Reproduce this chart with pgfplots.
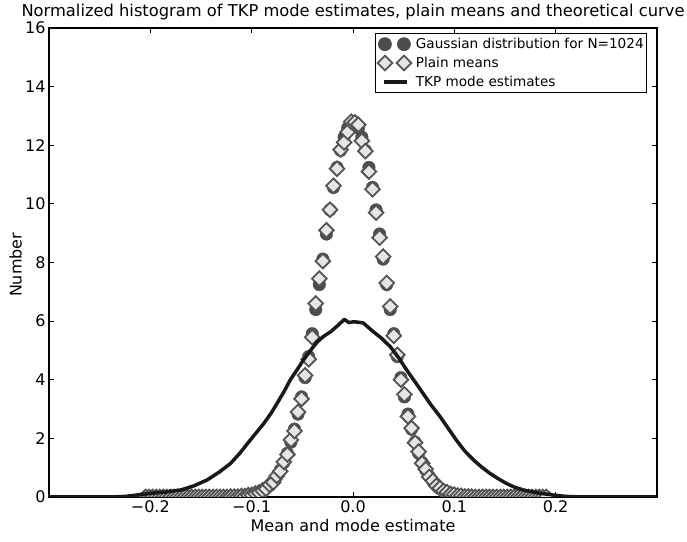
\documentclass[border=0pt]{standalone}
\usepackage{fontspec}
\setmainfont{DejaVu Sans}
\usepackage{pgfplots}
\pgfplotsset{compat=1.18}
\usepackage{pgfplotstable}
\definecolor{gdark}{gray}{0.3}
\definecolor{dedge}{gray}{0.33}
\definecolor{dfill}{gray}{0.9}
\definecolor{tkp}{gray}{0.1}
\pgfplotsset{
  twomarklegend/.style={legend image code/.code={\path[draw=none,fill=none] (0pt,0pt) -- (30pt,0pt);\draw[##1] plot[only marks] coordinates {(0pt,0pt) (19pt,0pt)};}},
  linelegend/.style={legend image code/.code={\path[draw=none,fill=none] (0pt,0pt) -- (30pt,0pt);\draw[##1] (-1pt,0pt) -- (22pt,0pt);}},
}

\pgfplotstableread{
x g p
-0.20475 0 0
-0.20125 0 0
-0.19775 0 0
-0.19425 0 0
-0.19075 0 0
-0.18725 0 0
-0.18375 0 0
-0.18025 0 0
-0.17675 0 0
-0.17325 0 0
-0.16975 0 0
-0.16625 0 0
-0.16275 0 0
-0.15925 0 0
-0.15575 0 0
-0.15225 0 0
-0.14875 0 0
-0.14525 0 0
-0.14175 0 0
-0.13825 0.001 0
-0.13475 0.001 0
-0.13125 0.002 0
-0.12775 0.003 0
-0.12425 0.004 0
-0.12075 0.007 0.01
-0.11725 0.011 0.01
-0.11375 0.017 0.01
-0.11025 0.025 0.03
-0.10675 0.037 0.03
-0.10325 0.054 0.06
-0.09975 0.078 0.07
-0.09625 0.111 0.12
-0.09275 0.156 0.15
-0.08925 0.216 0.22
-0.08575 0.296 0.28
-0.08225 0.400 0.42
-0.07875 0.533 0.50
-0.07525 0.703 0.72
-0.07175 0.915 0.88
-0.06825 1.176 1.20
-0.06475 1.492 1.45
-0.06125 1.870 1.95
-0.05775 2.314 2.25
-0.05425 2.829 2.90
-0.05075 3.415 3.35
-0.04725 4.071 4.15
-0.04375 4.791 4.70
-0.04025 5.569 5.45
-0.03675 6.394 6.60
-0.03325 7.248 7.45
-0.02975 8.115 8.05
-0.02625 8.971 9.10
-0.02275 9.794 9.80
-0.01925 10.560 10.62
-0.01575 11.243 11.20
-0.01225 11.822 11.85
-0.00875 12.275 12.10
-0.00525 12.587 12.45
-0.00175 12.746 12.80
0.00175 12.746 12.78
0.00525 12.587 12.70
0.00875 12.275 12.15
0.01225 11.822 11.80
0.01575 11.243 11.10
0.01925 10.560 10.50
0.02275 9.794 9.70
0.02625 8.971 8.85
0.02975 8.115 8.20
0.03325 7.248 7.30
0.03675 6.394 6.50
0.04025 5.569 5.50
0.04375 4.791 4.85
0.04725 4.071 4.00
0.05075 3.415 3.50
0.05425 2.829 2.75
0.05775 2.314 2.35
0.06125 1.870 1.85
0.06475 1.492 1.55
0.06825 1.176 1.15
0.07175 0.915 0.95
0.07525 0.703 0.68
0.07875 0.533 0.55
0.08225 0.400 0.38
0.08575 0.296 0.30
0.08925 0.216 0.20
0.09275 0.156 0.16
0.09625 0.111 0.10
0.09975 0.078 0.08
0.10325 0.054 0.05
0.10675 0.037 0.04
0.11025 0.025 0.02
0.11375 0.017 0.02
0.11725 0.011 0.01
0.12075 0.007 0
0.12425 0.004 0
0.12775 0.003 0
0.13125 0.002 0
0.13475 0.001 0
0.13825 0.001 0
0.14175 0 0
0.14525 0 0
0.14875 0 0
0.15225 0 0
0.15575 0 0
0.15925 0 0
0.16275 0 0
0.16625 0 0
0.16975 0 0
0.17325 0 0
0.17675 0 0
0.18025 0 0
0.18375 0 0
0.18725 0 0
0.19075 0 0
}\meansdata

\pgfplotstableread{
x y
-0.300 0.00
-0.240 0.00
-0.225 0.02
-0.215 0.06
-0.199 0.13
-0.185 0.17
-0.170 0.24
-0.157 0.38
-0.144 0.58
-0.132 0.85
-0.121 1.14
-0.112 1.48
-0.104 1.83
-0.096 2.17
-0.088 2.51
-0.081 2.85
-0.075 3.19
-0.068 3.60
-0.062 3.99
-0.055 4.35
-0.049 4.67
-0.042 5.00
-0.035 5.30
-0.029 5.48
-0.022 5.64
-0.015 5.85
-0.0086 6.06
-0.004 5.95
0.001 5.98
0.010 5.94
0.020 5.64
0.028 5.42
0.037 5.12
0.045 4.75
0.053 4.33
0.061 3.94
0.069 3.54
0.077 3.14
0.086 2.74
0.094 2.34
0.102 1.94
0.110 1.58
0.119 1.26
0.127 1.02
0.135 0.81
0.143 0.63
0.151 0.47
0.159 0.34
0.168 0.24
0.176 0.18
0.184 0.13
0.197 0.07
0.210 0.02
0.225 0.00
0.300 0.00
}\tkpdata

\begin{document}
\begin{tikzpicture}[font=\fontsize{16}{19}\selectfont]
\begin{axis}[
  scale only axis, width=608pt, height=469pt,
  xmin=-0.3, xmax=0.3, ymin=0, ymax=16,
  xtick={-0.2,-0.1,0,0.1,0.2},
  xticklabels={−0.2,−0.1,0.0,0.1,0.2},
  ytick={0,2,4,6,8,10,12,14,16},
  /pgf/number format/assume math mode=true,
  tick label style={font=\fontsize{16}{19}\selectfont},
  axis line style={line width=1.2pt},
  every tick/.style={black, line width=1pt},
  major tick length=5pt,
  title={Normalized histogram of TKP mode estimates, plain means and theoretical curve},
  title style={font=\fontsize{16.3}{19}\selectfont, at={(0.5,1.0213)}, anchor=base, yshift=-5pt},
  xlabel={Mean and mode estimate},
  xlabel style={at={(0.5,-0.0746)}, anchor=base},
  ylabel={Number},
  ylabel style={at={(-0.0452,0.495)}, anchor=base},
  clip marker paths=true,
  legend cell align=left,
  legend style={at={(rel axis cs:0.984,0.989)}, anchor=north east, draw=black,
    line width=1.2pt, font=\fontsize{13.6}{16}\selectfont, inner xsep=2pt, inner ysep=2.5pt,
    row sep=3pt, nodes={inner xsep=1pt, inner ysep=2pt}},
]
\addplot[only marks, mark=*, mark size=6.3pt, color=gdark, twomarklegend]
  table[x=x,y=g] {\meansdata};
\addlegendentry{Gaussian distribution for N=1024}
\addplot[only marks, mark=square*, mark size=5.2pt,
  mark options={rotate=45, fill=dfill, draw=dedge, line width=1.8pt}, twomarklegend]
  table[x=x,y=p] {\meansdata};
\addlegendentry{Plain means}
\addplot[tkp, line width=3.5pt, line join=round, linelegend]
  table[x=x,y=y] {\tkpdata};
\addlegendentry{TKP mode estimates}
\end{axis}
\pgfresetboundingbox
\path ([xshift=-49pt,yshift=-45pt]current axis.south west) rectangle ([xshift=30pt,yshift=28pt]current axis.north east);
\end{tikzpicture}
\end{document}
